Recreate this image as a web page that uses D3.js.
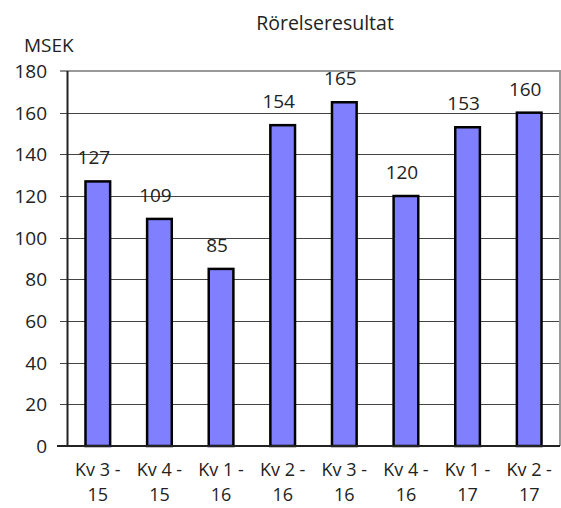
<!DOCTYPE html>
<html>
<head>
<meta charset="utf-8">
<script src="https://cdn.jsdelivr.net/npm/d3@7/dist/d3.min.js"></script>
<style>
  body { margin: 0; background: #fff; }
  text { font-family: "Open Sans", "Noto Sans", sans-serif; fill: #222; }
</style>
</head>
<body>
<svg id="chart" width="561" height="508"></svg>
<script>
// chart data
const quarters = ['Kv 3 -', 'Kv 4 -', 'Kv 1 -', 'Kv 2 -', 'Kv 3 -', 'Kv 4 -', 'Kv 1 -', 'Kv 2 -']
const years = ['15', '15', '16', '16', '16', '16', '17', '17']
const values = [127, 109, 85, 154, 165, 120, 153, 160]
const yTicks = [0, 20, 40, 60, 80, 100, 120, 140, 160, 180]

const svg = d3.select('#chart'),
  margin = { top: 71, right: 1, bottom: 62, left: 67 },
  width = +svg.attr('width') - margin.left - margin.right,
  height = +svg.attr('height') - margin.top - margin.bottom,
  g = svg.append('g').attr('transform', 'translate(' + margin.left + ',' + margin.top + ')')

const idx = values.map((d, i) => i)

const x = d3.scaleBand()
  .domain(idx)
  .range([0, width])
  .paddingInner(0.6)
  .paddingOuter(0.3)

const y = d3.scaleLinear()
  .domain([0, 180])
  .range([height, 0])

// gridlines
g.append('g')
  .selectAll('line')
  .data(yTicks.filter(d => d > 0 && d < 180))
  .join('line')
  .attr('x1', -7).attr('x2', width)
  .attr('y1', d => Math.round(y(d)) + 0.5).attr('y2', d => Math.round(y(d)) + 0.5)
  .attr('stroke', '#444')
  .attr('stroke-width', 1)

// plot border (top + right)
g.append('path')
  .attr('d', 'M0,' + y(180) + 'H' + width + 'V' + y(0))
  .attr('fill', 'none')
  .attr('stroke', '#999')
  .attr('stroke-width', 2)
g.append('line')
  .attr('x1', -7).attr('x2', 0)
  .attr('y1', y(180)).attr('y2', y(180))
  .attr('stroke', '#222')

// y axis
const yAxis = g.append('g')
  .call(d3.axisLeft(y).tickValues(yTicks).tickSize(0).tickPadding(20))
yAxis.select('.domain').remove()
yAxis.selectAll('text')
  .style('font-size', '19px')
  .attr('dy', '0.35em')

g.append('line')
  .attr('x1', 0.5).attr('x2', 0.5)
  .attr('y1', y(180)).attr('y2', y(0))
  .attr('stroke', '#222')
  .attr('stroke-width', 2)

// bars
g.selectAll('rect.bar')
  .data(values)
  .join('rect')
  .attr('class', 'bar')
  .attr('x', (d, i) => x(i))
  .attr('y', d => y(d))
  .attr('width', x.bandwidth())
  .attr('height', d => y(0) - y(d))
  .attr('fill', '#8080ff')
  .attr('stroke', '#000')
  .attr('stroke-width', 2.5)

// zero line
g.append('line')
  .attr('x1', -10).attr('x2', width)
  .attr('y1', y(0)).attr('y2', y(0))
  .attr('stroke', '#222')
  .attr('stroke-width', 2)

// value labels
g.selectAll('text.val')
  .data(values)
  .join('text')
  .attr('class', 'val')
  .attr('x', (d, i) => x(i) + x.bandwidth() / 2 - 4)
  .attr('y', d => y(d) - 17)
  .attr('text-anchor', 'middle')
  .style('font-size', '19px')
  .text(d => d)

// category labels (two lines)
const cat = g.selectAll('text.cat')
  .data(idx)
  .join('text')
  .attr('class', 'cat')
  .attr('text-anchor', 'middle')
  .style('font-size', '18px')
cat.append('tspan')
  .attr('x', i => x(i) + x.bandwidth() / 2)
  .attr('y', height + 30)
  .text(i => quarters[i])
cat.append('tspan')
  .attr('x', i => x(i) + x.bandwidth() / 2)
  .attr('y', height + 55)
  .text(i => years[i])

// titles
svg.append('text')
  .attr('x', 325)
  .attr('y', 30)
  .attr('text-anchor', 'middle')
  .style('font-size', '19.5px')
  .text('Rörelseresultat')

svg.append('text')
  .attr('x', 24)
  .attr('y', 52)
  .style('font-size', '19px')
  .text('MSEK')
</script>
</body>
</html>
